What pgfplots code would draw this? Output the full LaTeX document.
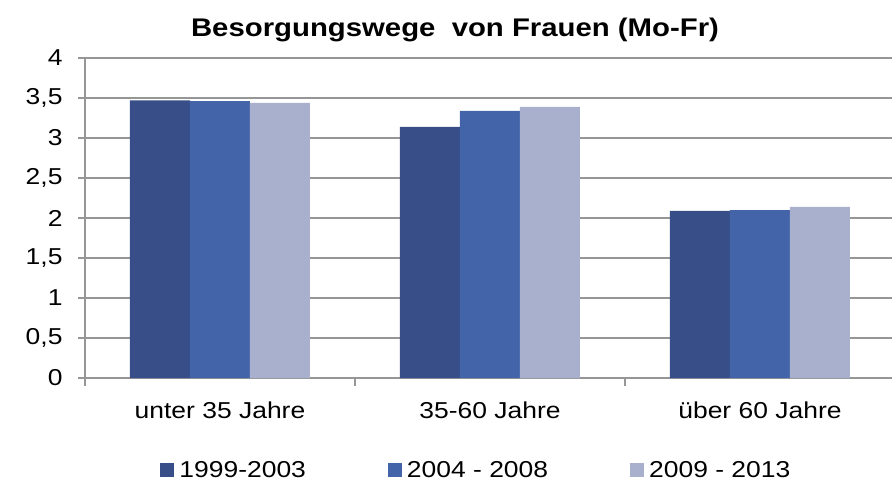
\documentclass[border=0pt]{standalone}
\usepackage{fontspec}
\setmainfont{Liberation Sans}[FakeStretch=1.15]
\usepackage{pgfplots}
\pgfplotsset{compat=1.18}

\definecolor{cDark}{RGB}{55,78,137}
\definecolor{cMid}{RGB}{68,100,170}
\definecolor{cLight}{RGB}{168,176,206}
\definecolor{cGrid}{RGB}{150,150,150}

\begin{document}
\begin{tikzpicture}[x=1pt,y=1pt]
\path[use as bounding box] (0,0) rectangle (892,499);
\node[font=\bfseries\fontsize{25.5}{28}\selectfont] at (455,469) {Besorgungswege\ \ von Frauen (Mo-Fr)};
\begin{axis}[
    at={(85pt,121pt)}, anchor=south west,
    scale only axis,
    width=807pt, height=320pt,
    xmin=-0.5, xmax=2.489,
    ymin=0, ymax=4,
    ytick={0,0.5,...,4},
    xtick={0,1,2},
    xticklabels={unter 35 Jahre, 35-60 Jahre, über 60 Jahre},
    minor xtick={-0.5,0.5,1.5},
    major x tick style={draw=none},
    minor x tick style={draw=cGrid, line width=1.2pt},
    minor tick length=8pt,
    xtick pos=bottom, ytick pos=left,
    tick align=outside,
    major tick length=7pt,
    y tick style={draw=cGrid, line width=1.2pt},
    ymajorgrids,
    grid style={draw=cGrid, line width=1.3pt},
    axis line style={draw=cGrid, line width=1.2pt},
    axis y line*=left, axis x line*=bottom,
    x axis line style={-}, y axis line style={-},
    ybar=0pt, bar width=60pt,
    /pgf/number format/use comma,
    /pgf/number format/assume math mode=true,
    tick label style={font=\fontsize{23}{26}\selectfont},
    yticklabel style={xshift=-12pt},
    xticklabel style={yshift=-13pt},
    legend columns=3,
    legend style={at={(0.485,-0.2875)}, anchor=center, draw=none,
        font=\fontsize{23}{26}\selectfont,
        /tikz/every odd column/.append style={column sep=3pt},
        /tikz/every even column/.append style={column sep=80pt}},
    legend image code/.code={\fill[#1] (0pt,-7pt) rectangle (14pt,7pt);},
]
\addplot[fill=cDark, draw=none] coordinates {(0,3.47) (1,3.14) (2,2.09)};
\addplot[fill=cMid, draw=none] coordinates {(0,3.46) (1,3.34) (2,2.10)};
\addplot[fill=cLight, draw=none] coordinates {(0,3.44) (1,3.39) (2,2.14)};
\legend{1999-2003, 2004 - 2008, 2009 - 2013}
\end{axis}
\end{tikzpicture}
\end{document}
